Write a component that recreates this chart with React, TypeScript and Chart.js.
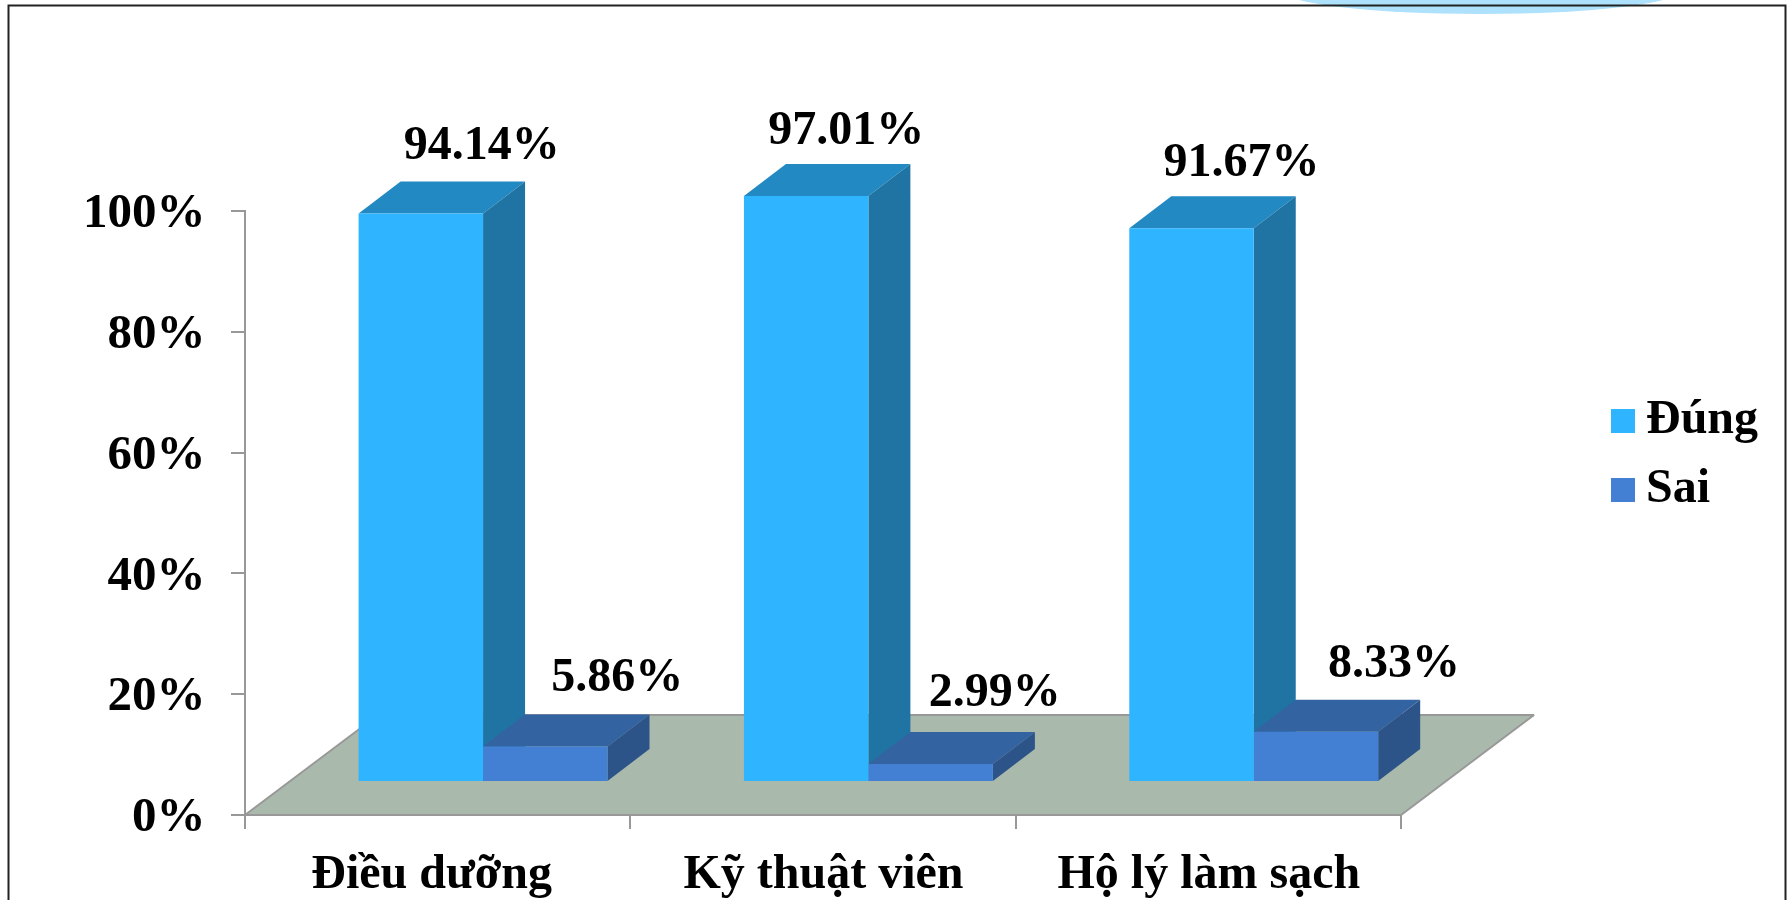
import React, { useEffect, useRef } from "react";
import { Chart, registerables } from "chart.js";

Chart.register(...registerables);

const categories = ["Điều dưỡng", "Kỹ thuật viên", "Hộ lý làm sạch"];
const seriesNames = ["Đúng", "Sai"];
const dungValues = [94.14, 97.01, 91.67];
const saiValues = [5.86, 2.99, 8.33];
const yTicks = { min: 0, max: 100, step: 20 };

const FONT = "'Liberation Serif', 'Times New Roman', serif";
const FONT_SIZE = 48;
const frontColors = ["#2FB5FF", "#4380D3"];
const topColors = ["#2389C2", "#3463A1"];
const sideColors = ["#1F74A3", "#2D5488"];
const floorColor = "#A9BAAD";
const axisColor = "#989898";

// 3D projection used to fake the depth of the reference
const FRONT_SHIFT = { x: 45.4, y: -33 };
const BAR_DEPTH = { x: 42, y: -32 };
const FLOOR_DEPTH = { x: 133, y: -100 };

// hand-placed labels, measured from the bar's front top centre / the band centre
const labelNudgeX = [[61, 40, 50], [72, 64, 78]];
const labelNudgeY = [[-67, -64, -65], [-68, -70, -67.5]];
const categoryNudgeX = [-6, 0.5, 0.5];

function swatch(color: string) {
  const c = document.createElement("canvas");
  c.width = 48;
  c.height = 24;
  const g = c.getContext("2d")!;
  g.fillStyle = color;
  g.fillRect(24, 0, 24, 24);
  return c;
}

function poly(ctx: CanvasRenderingContext2D, pts: number[][], fill: string) {
  ctx.beginPath();
  pts.forEach(([x, y], i) => (i ? ctx.lineTo(x, y) : ctx.moveTo(x, y)));
  ctx.closePath();
  ctx.fillStyle = fill;
  ctx.fill();
}

const scenePlugin = {
  id: "scene",
  afterLayout(chart: any) {
    const l = chart.legend;
    l.left = 1579;
    l.right = 1787;
    l.top = 375.5;
    l.bottom = 540;
    chart.scales.x.getLabelItems().forEach((item: any, i: number) => {
      item.options.translation[0] += categoryNudgeX[i];
    });
  },
  beforeDraw(chart: any) {
    const { ctx } = chart;
    ctx.save();
    ctx.beginPath();
    ctx.ellipse(1481, -10, 200, 24, 0, 0, Math.PI * 2);
    ctx.fillStyle = "#ADE1FC";
    ctx.fill();
    ctx.beginPath();
    ctx.moveTo(8.5, 900);
    ctx.lineTo(8.5, 5.5);
    ctx.lineTo(1785.5, 5.5);
    ctx.lineTo(1785.5, 900);
    ctx.strokeStyle = "#222";
    ctx.lineWidth = 2;
    ctx.stroke();
    ctx.restore();
  },
  beforeDatasetsDraw(chart: any) {
    const { ctx, scales } = chart;
    const y0 = scales.y.getPixelForValue(0);
    const l = scales.x.left;
    const r = scales.x.right;
    ctx.save();
    const floor = [
      [l, y0],
      [r, y0],
      [r + FLOOR_DEPTH.x, y0 + FLOOR_DEPTH.y],
      [l + FLOOR_DEPTH.x, y0 + FLOOR_DEPTH.y],
    ];
    poly(ctx, floor, floorColor);
    ctx.strokeStyle = axisColor;
    ctx.lineWidth = 2;
    ctx.lineJoin = "bevel";
    ctx.stroke();
    [0, 1].forEach((d) => {
      chart.getDatasetMeta(d).data.forEach((el: any) => {
        const x1 = el.x - el.width / 2 + FRONT_SHIFT.x;
        const x2 = el.x + el.width / 2 + FRONT_SHIFT.x;
        const t = el.y + FRONT_SHIFT.y;
        const b = el.base + FRONT_SHIFT.y;
        poly(ctx, [[x1, t], [x2, t], [x2 + BAR_DEPTH.x, t + BAR_DEPTH.y], [x1 + BAR_DEPTH.x, t + BAR_DEPTH.y]], topColors[d]);
        poly(ctx, [[x2, t], [x2 + BAR_DEPTH.x, t + BAR_DEPTH.y], [x2 + BAR_DEPTH.x, b + BAR_DEPTH.y], [x2, b]], sideColors[d]);
      });
    });
    ctx.restore();
  },
  beforeDatasetDraw(chart: any) {
    chart.ctx.save();
    chart.ctx.translate(FRONT_SHIFT.x, FRONT_SHIFT.y);
  },
  afterDatasetDraw(chart: any) {
    chart.ctx.restore();
  },
  afterDatasetsDraw(chart: any) {
    const { ctx } = chart;
    ctx.save();
    ctx.font = `bold ${FONT_SIZE}px ${FONT}`;
    ctx.fillStyle = "#000";
    ctx.textAlign = "center";
    ctx.textBaseline = "middle";
    chart.data.datasets.forEach((ds: any, d: number) => {
      chart.getDatasetMeta(d).data.forEach((el: any, i: number) => {
        ctx.fillText(
          `${ds.data[i].toFixed(2)}%`,
          el.x + FRONT_SHIFT.x + labelNudgeX[d][i],
          el.y + FRONT_SHIFT.y + labelNudgeY[d][i]
        );
      });
    });
    ctx.restore();
  },
};

export default function App() {
  const ref = useRef<HTMLCanvasElement>(null);
  useEffect(() => {
    document.body.style.background = "#fff";
    const chart = new Chart(ref.current!, {
      type: "bar",
      data: {
        labels: categories,
        datasets: [
          { label: seriesNames[0], data: dungValues, backgroundColor: frontColors[0], clip: false },
          { label: seriesNames[1], data: saiValues, backgroundColor: frontColors[1], clip: false },
        ],
      } as any,
      options: {
        animation: false,
        responsive: false,
        layout: { padding: { left: 0, right: 386, top: 211, bottom: 0 } },
        datasets: { bar: { categoryPercentage: 0.646, barPercentage: 1 } },
        plugins: {
          tooltip: { enabled: false },
          legend: {
            position: "chartArea",
            align: "start",
            labels: {
              font: { family: FONT, size: FONT_SIZE, weight: "bold" },
              color: "#000",
              usePointStyle: true,
              boxWidth: 22,
              boxHeight: 24,
              pointStyleWidth: 22,
              padding: 21,
              generateLabels: (c: any) =>
                (Chart.defaults.plugins.legend.labels as any)
                  .generateLabels(c)
                  .map((it: any, i: number) => ({ ...it, pointStyle: swatch(frontColors[i]) })),
            },
          },
        },
        scales: {
          x: {
            afterFit: (s: any) => {
              s.height = 85;
            },
            grid: { drawOnChartArea: false, color: axisColor, lineWidth: 2, tickLength: 14 },
            border: { color: axisColor, width: 2 },
            ticks: {
              color: "#000",
              padding: 18,
              maxRotation: 0,
              font: { family: FONT, size: FONT_SIZE, weight: "bold" },
            },
          },
          y: {
            min: yTicks.min,
            max: yTicks.max,
            afterFit: (s: any) => {
              s.width = 245;
            },
            grid: { drawOnChartArea: false, color: axisColor, lineWidth: 2, tickLength: 14 },
            border: { color: axisColor, width: 2 },
            ticks: {
              stepSize: yTicks.step,
              color: "#000",
              padding: 25.6,
              labelOffset: 3.5,
              font: { family: FONT, size: 49, weight: "bold" },
              callback: (v: any) => `${v}%`,
            },
          },
        },
      } as any,
      plugins: [scenePlugin],
    });
    return () => chart.destroy();
  }, []);
  return (
    <canvas
      ref={ref}
      width={1787}
      height={900}
      style={{ position: "absolute", left: 0, top: 0, display: "block" }}
    />
  );
}
